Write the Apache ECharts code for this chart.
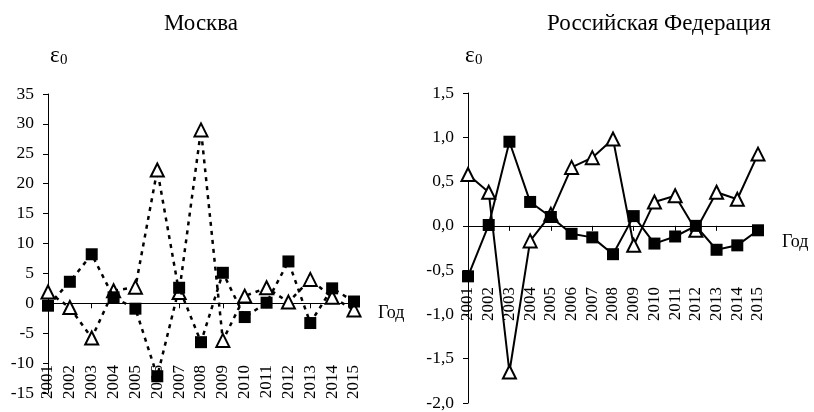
<!DOCTYPE html>
<html>
<head>
<meta charset="utf-8">
<script src="https://cdn.jsdelivr.net/npm/echarts@6/dist/echarts.min.js"></script>
<style>html,body{margin:0;padding:0;background:#fff}#c{width:814px;height:412px}</style>
</head>
<body>
<div id="c"></div>
<script>
var years = ['2001','2002','2003','2004','2005','2006','2007','2008','2009','2010','2011','2012','2013','2014','2015'];
var moscowSquares = [-0.4, 3.6, 8.2, 1.0, -0.9, -12.2, 2.6, -6.5, 5.1, -2.3, 0.1, 7.0, -3.3, 2.5, 0.3];
var moscowTriangles = [1.9, -0.7, -5.8, 2.1, 2.7, 22.3, 1.8, 29.0, -6.2, 1.2, 2.6, 0.2, 4.0, 1.0, -1.1];
var rfSquares = [-0.57, 0.01, 0.95, 0.27, 0.10, -0.09, -0.13, -0.32, 0.11, -0.20, -0.12, 0.00, -0.27, -0.22, -0.05];
var rfTriangles = [0.58, 0.38, -1.65, -0.17, 0.13, 0.66, 0.77, 0.98, -0.22, 0.27, 0.34, -0.05, 0.38, 0.30, 0.81];
var titleLeft = 'Москва';
var titleRight = 'Российская Федерация';
var yNameMain = 'ε';
var yNameSub = '0';
var xName = 'Год';

var FF = "'Liberation Serif','Times New Roman',serif";
var FSY = 17.5;
var FSX = 17;
var black = '#000';

var chart = echarts.init(document.getElementById('c'), null, {renderer: 'canvas'});

function yAxis(gi, min, max, step, fmt) {
  return {
    gridIndex: gi, type: 'value', min: min, max: max, interval: step,
    axisLine: {show: true, lineStyle: {color: black, width: 1}},
    axisTick: {show: true, length: 5, lineStyle: {color: black}},
    axisLabel: {color: black, fontFamily: FF, fontSize: FSY, margin: 14, formatter: fmt},
    splitLine: {show: false}
  };
}

function lineAxis(gi, padTop) {
  return {
    gridIndex: gi, type: 'category', data: years, boundaryGap: false,
    axisLine: {show: true, onZero: true, lineStyle: {color: black, width: 1}},
    axisTick: {show: true, length: 5, lineStyle: {color: black}},
    axisLabel: {show: false},
    name: xName, nameLocation: 'end', nameGap: 24,
    nameTextStyle: {color: black, fontFamily: FF, fontSize: 18, verticalAlign: 'top', padding: [padTop, 0, 0, 0]}
  };
}
function labelAxis(gi, off) {
  return {
    gridIndex: gi, type: 'category', data: years, boundaryGap: false,
    position: 'bottom', offset: off,
    axisLine: {show: false, onZero: false},
    axisTick: {show: false},
    axisLabel: {show: true, rotate: 90, margin: 2, interval: 0, color: black, fontFamily: FF, fontSize: FSX}
  };
}

function mk(name, xi, yi, data, sym, dashed) {
  var filled = sym === 'rect';
  return {
    name: name, type: 'line', xAxisIndex: xi, yAxisIndex: yi, data: data,
    symbol: sym, symbolSize: filled ? 12 : 13, showAllSymbol: true,
    lineStyle: {color: black, width: dashed ? 2.5 : 2, type: dashed ? [4, 5] : 'solid'},
    itemStyle: filled ? {color: black, borderColor: black, borderWidth: 0} : {color: '#fff', borderColor: black, borderWidth: 2},
    z: filled ? 3 : 2,
    animation: false
  };
}

function txt(s, x, y, size, align, va) {
  return {type: 'text', style: {text: s, x: x, y: y, textAlign: align, textVerticalAlign: va, font: size + 'px ' + FF, fill: black}};
}

chart.setOption({
  animation: false,
  backgroundColor: '#fff',
  grid: [
    {left: 48, top: 94, width: 306, height: 299, containLabel: false},
    {left: 468, top: 93, width: 290, height: 311, containLabel: false}
  ],
  xAxis: [lineAxis(0, 1), labelAxis(0, -30), lineAxis(1, 7), labelAxis(1, -118)],
  yAxis: [
    yAxis(0, -15, 35, 5, function (v) { return String(v); }),
    yAxis(1, -2, 1.5, 0.5, function (v) { return v.toFixed(1).replace('.', ','); })
  ],
  graphic: [
    txt(titleLeft, 201, 24, 23, 'center', 'middle'),
    txt(titleRight, 659, 24, 23, 'center', 'middle'),
    txt(yNameMain, 50, 67, 23, 'left', 'bottom'),
    txt(yNameSub, 60, 68, 15, 'left', 'bottom'),
    txt(yNameMain, 465, 67, 23, 'left', 'bottom'),
    txt(yNameSub, 475, 68, 15, 'left', 'bottom')
  ],
  series: [
    mk('Москва Δ', 0, 0, moscowTriangles, 'triangle', true),
    mk('Москва ■', 0, 0, moscowSquares, 'rect', true),
    mk('РФ Δ', 2, 1, rfTriangles, 'triangle', false),
    mk('РФ ■', 2, 1, rfSquares, 'rect', false)
  ]
});
</script>
</body>
</html>
